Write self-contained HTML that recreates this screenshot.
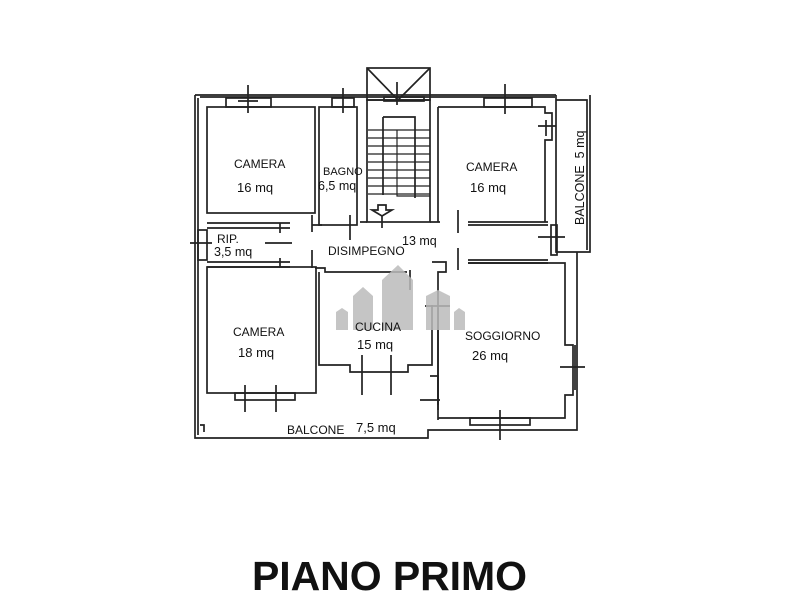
<!DOCTYPE html>
<html><head><meta charset="utf-8"><style>
html,body{margin:0;padding:0;background:#fff;width:800px;height:600px;overflow:hidden}
svg text{font-family:"Liberation Sans",sans-serif;fill:#111}
</style></head><body>
<svg width="800" height="600" viewBox="0 0 800 600" xmlns="http://www.w3.org/2000/svg">
<g fill="none" stroke="#222" stroke-width="1.7">
<path d="M195 95 H556 M195 95 V438 H428 V430 H577 V252 M198 98 V435 M590 95 V252 H556 V95"/>
<path d="M200 97 H555"/>
<rect x="367" y="68" width="63" height="32"/>
<path d="M367 68 L398 100 L430 68"/>
<rect x="207" y="107" width="108" height="106"/>
<rect x="226" y="98" width="45" height="9"/>
<path d="M248 85 V113 M238 101 H258"/>
<rect x="319" y="107" width="38" height="118"/>
<rect x="332" y="98" width="22" height="9"/>
<path d="M343 88 V113"/>
<rect x="367" y="100" width="63" height="122"/>
<rect x="384" y="97" width="40" height="4"/>
<path d="M397 82 V105 M383 117 H415 V198 M383 117 V195"/>
<g stroke-width="1.2"><path d="M368 130 H430 M368 138 H430 M368 146 H430 M368 154 H430 M368 162 H430 M368 170 H430 M368 178 H430 M368 186 H430 M368 194 H430 M397 130 V196 H430"/></g>
<path d="M372 210 L382 216 L392 210 L386 210 V205 H378 V210 Z M382 216 V228"/>
<path d="M438 107 H545 V113 H552 V140 H545 V222 M438 107 V222"/>
<rect x="484" y="98" width="48" height="9"/>
<path d="M505 84 V114 M538 126 H556 M546 120 V136"/>
<path d="M556 100 H587 V250"/>
<path d="M207 223 H290 M207 228 H290 M280 223 V233 M207 262 H290 M207 267 H290 M280 258 V267"/>
<path d="M312 215 V232 M312 250 V268 M265 243 H292"/>
<path d="M312 225 H322 M360 222 H367 M430 222 H440 M350 215 V240"/>
<path d="M468 222 H548 M468 225 H548 M458 210 V233 M458 248 V270 M468 260 H548 M468 263 H548"/>
<rect x="551" y="225" width="6" height="30"/><path d="M538 237 H565"/>
<rect x="198" y="230" width="9" height="30"/><path d="M190 243 H212"/>
<rect x="207" y="267" width="109" height="126"/>
<rect x="235" y="393" width="60" height="7"/>
<path d="M245 385 V412 M276 385 V412"/>
<path d="M315 268 H325 V272 H407 M319 272 V365 H350 V372 H408 V365 H432 V305"/>
<path d="M410 270 V290 M432 262 H446 V272 H438 V420"/>
<path d="M425 306 H450 M438 308 V410"/>
<path d="M362 355 V395 M391 355 V395"/>
<path d="M468 263 H565 V345 H573 V395 H565 V418 H438"/>
<path d="M560 367 H585 M575 345 V390"/>
<rect x="470" y="418" width="60" height="7"/>
<path d="M500 410 V440"/>
<path d="M430 376 H438 V405 M420 400 H440"/>
<path d="M200 425 L204 425 L204 432"/>
</g>
<g fill="#bbb" opacity="0.85">
<path d="M382 280 L398 265 L413 280 V330 H382 Z"/>
<path d="M353 296 L363 287 L373 296 V330 H353 Z"/>
<path d="M426 296 L438 290 L450 296 V330 H426 Z"/>
<path d="M336 312 L342 308 L348 312 V330 H336 Z"/>
<path d="M454 312 L459 308 L465 312 V330 H454 Z"/>
</g>
<g font-size="12">
<text x="234" y="168">CAMERA</text>
<text x="237" y="192" font-size="13">16 mq</text>
<text x="323" y="175" font-size="11">BAGNO</text>
<text x="318" y="190" font-size="12.5">6,5 mq</text>
<text x="466" y="171">CAMERA</text>
<text x="470" y="192" font-size="13">16 mq</text>
<text transform="translate(584,225) rotate(-90)" font-size="12.5">BALCONE&#160;&#160;5 mq</text>
<text x="217" y="243">RIP.</text>
<text x="214" y="256" font-size="12.5">3,5 mq</text>
<text x="328" y="255">DISIMPEGNO</text>
<text x="402" y="245" font-size="12.5">13 mq</text>
<text x="233" y="336">CAMERA</text>
<text x="238" y="357" font-size="13">18 mq</text>
<text x="355" y="331">CUCINA</text>
<text x="357" y="349" font-size="13">15 mq</text>
<text x="465" y="340">SOGGIORNO</text>
<text x="472" y="360" font-size="13">26 mq</text>
<text x="287" y="434">BALCONE</text>
<text x="356" y="432" font-size="13">7,5 mq</text>
</g>
<text x="252" y="590" font-size="41" font-weight="bold" textLength="275" lengthAdjust="spacing">PIANO PRIMO</text>
</svg>
</body></html>
